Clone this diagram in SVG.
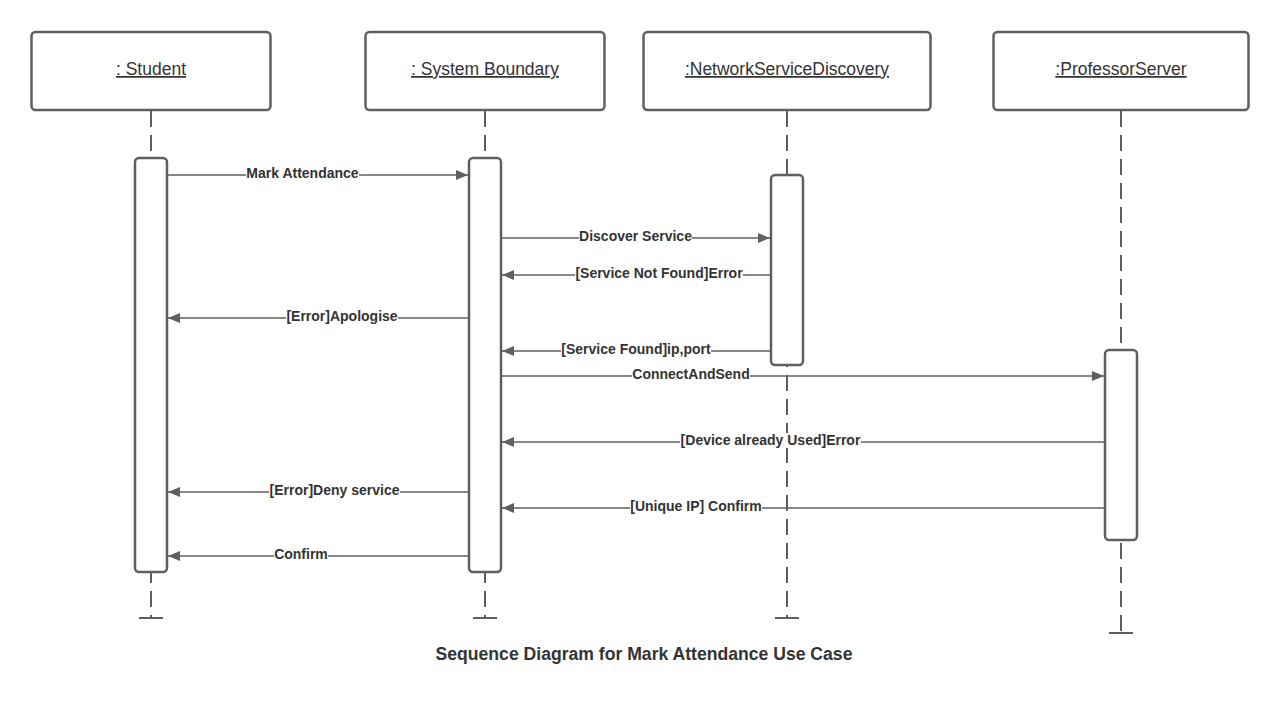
<svg xmlns="http://www.w3.org/2000/svg" width="1280" height="723" viewBox="0 0 1280 723">
<defs>
<style>
.box{fill:#fff;stroke:#5f5f5f;stroke-width:2.5}
.act{fill:#fff;stroke:#5f5f5f;stroke-width:2.5}
.life{stroke:#5f5f5f;stroke-width:2;stroke-dasharray:16 8;fill:none}
.end{stroke:#5f5f5f;stroke-width:2}
.msg{stroke:#5f5f5f;stroke-width:1.6;fill:none;marker-end:url(#arr)}
.bg{fill:#fff}
.name{font-family:"Liberation Sans",Arial,sans-serif;font-size:17.5px;fill:#333;text-anchor:middle;text-decoration:underline}
.lbl{font-family:"Liberation Sans",Arial,sans-serif;font-size:14px;font-weight:bold;fill:#333;text-anchor:middle}
.title{font-family:"Liberation Sans",Arial,sans-serif;font-size:17.6px;font-weight:bold;fill:#333;text-anchor:middle}
</style>
<marker id="arr" viewBox="0 0 12 10" refX="12" refY="5" markerWidth="12" markerHeight="10" markerUnits="userSpaceOnUse" orient="auto">
<path d="M0,0 L12,5 L0,10 Z" fill="#5f5f5f"/>
</marker>
</defs>
<rect width="1280" height="723" fill="#fff"/>

<g id="lifelines">
<line class="life" x1="151" y1="111" x2="151" y2="618"/>
<line class="end" x1="139" y1="618" x2="163" y2="618"/>
<line class="life" x1="485" y1="111" x2="485" y2="618"/>
<line class="end" x1="473" y1="618" x2="497" y2="618"/>
<line class="life" x1="787" y1="111" x2="787" y2="618"/>
<line class="end" x1="775" y1="618" x2="799" y2="618"/>
<line class="life" x1="1121" y1="111" x2="1121" y2="633"/>
<line class="end" x1="1109" y1="633" x2="1133" y2="633"/>
</g>

<g id="student">
<rect class="box" x="31.5" y="32" width="239" height="78" rx="4"/>
<text class="name" x="151" y="75">: Student</text>
<rect class="act" x="135" y="158" width="32" height="414" rx="4"/>
</g>
<g id="systemBoundary">
<rect class="box" x="365.5" y="32" width="239" height="78" rx="4"/>
<text class="name" x="485" y="75">: System Boundary</text>
<rect class="act" x="469" y="158" width="32" height="414" rx="4"/>
</g>
<g id="networkServiceDiscovery">
<rect class="box" x="643.5" y="32" width="287" height="78" rx="4"/>
<text class="name" x="787" y="75">:NetworkServiceDiscovery</text>
<rect class="act" x="771" y="175" width="32" height="190" rx="4"/>
</g>
<g id="professorServer">
<rect class="box" x="993.5" y="32" width="255" height="78" rx="4"/>
<text class="name" x="1121" y="75">:ProfessorServer</text>
<rect class="act" x="1105" y="350" width="32" height="190" rx="4"/>
</g>

<g id="connectors">
<line class="msg" x1="167" y1="175" x2="468" y2="175"/>
<rect class="bg" x="246" y="166" width="113" height="15"/>
<text class="lbl" x="302.5" y="178">Mark Attendance</text>
<line class="msg" x1="501" y1="238" x2="770" y2="238"/>
<rect class="bg" x="579" y="229" width="113" height="15"/>
<text class="lbl" x="635.5" y="241">Discover Service</text>
<line class="msg" x1="771" y1="275" x2="502" y2="275"/>
<rect class="bg" x="575" y="266" width="168" height="15"/>
<text class="lbl" x="659" y="278">[Service Not Found]Error</text>
<line class="msg" x1="469" y1="318" x2="168" y2="318"/>
<rect class="bg" x="286" y="309" width="112" height="15"/>
<text class="lbl" x="342" y="321">[Error]Apologise</text>
<line class="msg" x1="771" y1="351" x2="502" y2="351"/>
<rect class="bg" x="561" y="342" width="150" height="15"/>
<text class="lbl" x="636" y="354">[Service Found]ip,port</text>
<line class="msg" x1="501" y1="376" x2="1104" y2="376"/>
<rect class="bg" x="632" y="367" width="118" height="15"/>
<text class="lbl" x="691" y="379">ConnectAndSend</text>
<line class="msg" x1="1105" y1="442" x2="502" y2="442"/>
<rect class="bg" x="680" y="433" width="181" height="15"/>
<text class="lbl" x="770.5" y="445">[Device already Used]Error</text>
<line class="msg" x1="469" y1="492" x2="168" y2="492"/>
<rect class="bg" x="269" y="483" width="131" height="15"/>
<text class="lbl" x="334.5" y="495">[Error]Deny service</text>
<line class="msg" x1="1105" y1="508" x2="502" y2="508"/>
<rect class="bg" x="630" y="499" width="132" height="15"/>
<text class="lbl" x="696" y="511">[Unique IP] Confirm</text>
<line class="msg" x1="469" y1="556" x2="168" y2="556"/>
<rect class="bg" x="274" y="547" width="54" height="15"/>
<text class="lbl" x="301" y="559">Confirm</text>
</g>

<text class="title" x="644" y="660">Sequence Diagram for Mark Attendance Use Case</text>
</svg>
